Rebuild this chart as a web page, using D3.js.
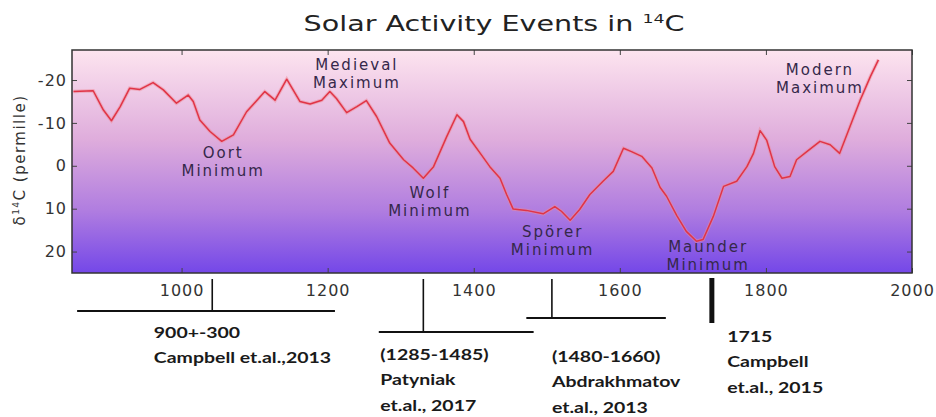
<!DOCTYPE html>
<html>
<head>
<meta charset="utf-8">
<script src="https://cdn.jsdelivr.net/npm/d3@7"></script>
<style>
  body { margin: 0; background: #fff; }
</style>
</head>
<body>
<div id="chart-area"></div>
<script>
// delta 14C record (permille, negative = more activity)
const years = [852, 879, 893, 904, 916, 929, 943, 961, 975, 993, 1009, 1016, 1025, 1039, 1055, 1071,
  1089, 1114, 1128, 1144, 1162, 1176, 1192, 1203, 1212, 1226, 1240, 1253, 1267, 1285, 1304, 1317,
  1331, 1345, 1363, 1377, 1386, 1395, 1409, 1422, 1436, 1445, 1454, 1472, 1495, 1511, 1520, 1532,
  1545, 1559, 1577, 1591, 1605, 1616, 1630, 1644, 1655, 1664, 1678, 1691, 1705, 1714, 1728, 1742,
  1760, 1774, 1783, 1792, 1801, 1812, 1822, 1833, 1842, 1856, 1874, 1888, 1901, 1915, 1929, 1943, 1954];
const d14c = [-17.3, -17.5, -13.0, -10.5, -13.8, -18.1, -17.8, -19.4, -17.7, -14.6, -16.5, -15.0, -10.7, -8.0, -5.7, -7.2,
  -12.6, -17.3, -15.3, -20.2, -15.0, -14.4, -15.3, -17.3, -15.7, -12.4, -13.8, -15.2, -11.5, -5.3, -1.4, 0.5,
  2.9, 0.2, -6.8, -11.9, -10.3, -6.2, -2.9, 0.2, 2.9, 6.7, 10.1, 10.4, 11.2, 9.5, 10.6, 12.7,
  10.2, 6.7, 3.6, 1.3, -4.1, -3.3, -2.2, 0.5, 5.0, 7.1, 11.6, 15.3, 17.6, 17.2, 11.8, 4.8,
  3.6, 0.2, -2.9, -8.2, -6.0, 0.2, 2.9, 2.5, -1.4, -3.3, -5.7, -4.9, -2.9, -9.1, -15.3, -20.8, -24.7];

const xTicks = [1000, 1200, 1400, 1600, 1800, 2000];
const yTicks = [-20, -10, 0, 10, 20];

// named events inside the plot
const eventNames = [["Oort", "Minimum"], ["Medieval", "Maximum"], ["Wolf", "Minimum"],
  ["Spörer", "Minimum"], ["Maunder", "Minimum"], ["Modern", "Maximum"]];
const eventYears = [1057, 1240, 1340, 1508, 1721, 1874];
const eventValues = [-1.9, -22.3, 7.4, 16.7, 20.0, -21.2];

// dated ranges under the axis
const rangeStart = [857, 1270, 1472];
const rangeEnd = [1210, 1482, 1663];
const rangeMid = [1042, 1331, 1507];
const markYear = 1726;
const noteYears = [962, 1272, 1507, 1747];
const noteLines = [
  ["900+-300", "Campbell et.al.,2013"],
  ["(1285-1485)", "Patyniak", "et.al., 2017"],
  ["(1480-1660)", "Abdrakhmatov", "et.al., 2013"],
  ["1715", "Campbell", "et.al., 2015"]
];

const margins = {top: 50, bottom: 144, left: 72, right: 24};
const svgWidth = 936, svgHeight = 417;
const chartWidth = svgWidth - margins.left - margins.right;
const chartHeight = svgHeight - margins.top - margins.bottom;

const canvas = d3.select("#chart-area")
  .append("svg")
    .attr("width", svgWidth)
    .attr("height", svgHeight);

const defs = canvas.append("defs");
const grad = defs.append("linearGradient")
  .attr("id", "bg")
  .attr("x1", 0).attr("y1", 0).attr("x2", 0).attr("y2", 1);
[[0, "#fde4ef"], [0.4, "#dfaddc"], [0.72, "#b07de0"], [1, "#7447e8"]].forEach(s => {
  grad.append("stop").attr("offset", s[0]).attr("stop-color", s[1]);
});
defs.append("clipPath").attr("id", "plotclip")
  .append("rect").attr("width", chartWidth).attr("height", chartHeight);

const x = d3.scaleLinear().domain([850, 2000]).range([0, chartWidth]);
const y = d3.scaleLinear().domain([-27, 25]).range([0, chartHeight]);

const chart = canvas.append("g")
  .attr("transform", `translate(${margins.left},${margins.top})`);

chart.append("rect")
  .attr("width", chartWidth)
  .attr("height", chartHeight)
  .attr("fill", "url(#bg)");

// Title (stretched sideways like the source image)
const title = canvas.append("text")
  .attr("transform", `translate(494,31) scale(1.33,1)`)
  .attr("text-anchor", "middle")
  .attr("font-family", "DejaVu Sans")
  .attr("font-size", 21.5)
  .attr("fill", "#222");
title.append("tspan").text("Solar Activity Events in ");
title.append("tspan").text("14").attr("font-size", 13).attr("dy", -8);
title.append("tspan").text("C").attr("dy", 8);

// y label
const yLabel = canvas.append("text")
  .attr("transform", `translate(25,${margins.top + 110}) rotate(-90)`)
  .attr("text-anchor", "middle")
  .attr("font-family", "DejaVu Sans")
  .attr("font-size", 15)
  .attr("letter-spacing", 1.5)
  .attr("fill", "#333");
yLabel.append("tspan").text("δ");
yLabel.append("tspan").text("14").attr("font-size", 9).attr("dy", -6);
yLabel.append("tspan").text("C (permille)").attr("dy", 6);

// axes
function styleAxis(g) {
  g.select(".domain").remove();
  g.selectAll("line").attr("stroke", "#444").attr("stroke-width", 1);
  g.selectAll("text")
    .attr("font-family", "DejaVu Sans")
    .attr("font-size", 16)
    .attr("letter-spacing", 1)
    .attr("fill", "#333");
}
chart.append("g")
  .attr("transform", `translate(0,${chartHeight})`)
  .call(d3.axisBottom(x).tickValues(xTicks).tickFormat(d3.format("d"))
    .tickSizeInner(-5).tickSizeOuter(0).tickPadding(12))
  .call(styleAxis);
chart.append("g")
  .call(d3.axisTop(x).tickValues(xTicks).tickFormat("").tickSizeInner(-5).tickSizeOuter(0))
  .call(styleAxis);
chart.append("g")
  .call(d3.axisLeft(y).tickValues(yTicks).tickFormat(d => String(d))
    .tickSizeInner(-5).tickSizeOuter(0).tickPadding(5))
  .call(styleAxis);
chart.append("g")
  .attr("transform", `translate(${chartWidth},0)`)
  .call(d3.axisRight(y).tickValues(yTicks).tickFormat("").tickSizeInner(-5).tickSizeOuter(0))
  .call(styleAxis);

// curve
const line = d3.line()
  .x((d, i) => x(years[i]))
  .y(d => y(d));
const plot = chart.append("g").attr("clip-path", "url(#plotclip)");
plot.append("path")
  .datum(d14c)
  .attr("fill", "none")
  .attr("stroke", "#f08a98")
  .attr("stroke-opacity", 0.5)
  .attr("stroke-width", 3.5)
  .attr("d", line);
plot.append("path")
  .datum(d14c)
  .attr("fill", "none")
  .attr("stroke", "#e03446")
  .attr("stroke-width", 1.5)
  .attr("stroke-linejoin", "round")
  .attr("d", line);

// event labels
eventNames.forEach((lines, i) => {
  const t = plot.append("text")
    .attr("x", x(eventYears[i]))
    .attr("y", y(eventValues[i]))
    .attr("text-anchor", "middle")
    .attr("font-family", "DejaVu Sans")
    .attr("font-size", 15)
    .attr("letter-spacing", 2)
    .attr("fill", "#35284a");
  lines.forEach((s, j) => {
    t.append("tspan").text(s).attr("x", x(eventYears[i])).attr("dy", j ? 18 : 0);
  });
});

// frame
chart.append("rect")
  .attr("width", chartWidth)
  .attr("height", chartHeight)
  .attr("fill", "none")
  .attr("stroke", "#333")
  .attr("stroke-width", 1.5);

// ranges under the axis
const bracketY = [38, 59, 45];
const under = chart.append("g")
  .attr("transform", `translate(0,${chartHeight})`)
  .attr("stroke", "#111");
rangeStart.forEach((s, i) => {
  under.append("line")
    .attr("x1", x(s)).attr("x2", x(rangeEnd[i]))
    .attr("y1", bracketY[i]).attr("y2", bracketY[i])
    .attr("stroke-width", 2);
  under.append("line")
    .attr("x1", x(rangeMid[i])).attr("x2", x(rangeMid[i]))
    .attr("y1", 6).attr("y2", bracketY[i])
    .attr("stroke-width", 1.6);
});
under.append("line")
  .attr("x1", x(markYear)).attr("x2", x(markYear))
  .attr("y1", 5).attr("y2", 50)
  .attr("stroke-width", 5);

// notes, stretched sideways like the source image
const noteTop = [65, 87, 89, 69];
noteLines.forEach((lines, i) => {
  const t = chart.append("text")
    .attr("transform", `translate(${x(noteYears[i])},${chartHeight}) scale(1.3,1)`)
    .attr("font-family", "Lato")
    .attr("font-weight", 700)
    .attr("font-size", 15)
    .attr("fill", "#1a1a1a");
  lines.forEach((s, j) => {
    t.append("tspan").text(s)
      .attr("x", 0)
      .attr("y", noteTop[i] + j * 25.5);
  });
});
</script>
</body>
</html>
